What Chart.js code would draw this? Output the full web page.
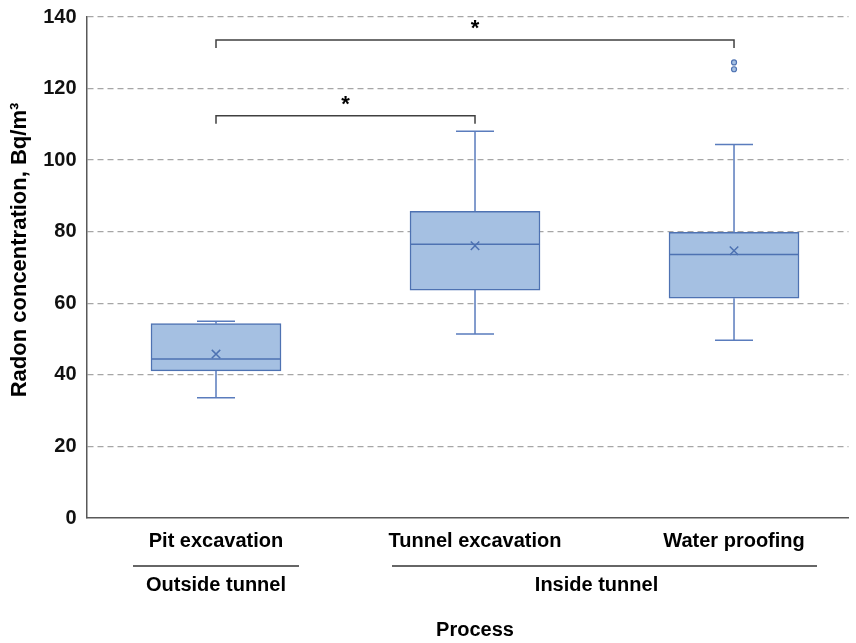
<!DOCTYPE html>
<html>
<head>
<meta charset="utf-8">
<script src="https://cdn.jsdelivr.net/npm/chart.js@4.4.1/dist/chart.umd.min.js"></script>
<style>
  html, body { margin: 0; padding: 0; background: #fff; }
  #wrap { width: 856px; height: 643px; }
</style>
</head>
<body>
<div id="wrap"><canvas id="chart" width="856" height="643"></canvas></div>
<script>
// Data
const categories = ['Pit excavation', 'Tunnel excavation', 'Water proofing'];
const groups = ['Outside tunnel', 'Inside tunnel'];
const groupFirst = [0, 1];
const groupLast = [0, 2];

const whiskerMin = [33.6, 51.4, 49.7];
const q1 = [41.1, 63.7, 61.4];
const median = [44.4, 76.5, 73.6];
const q3 = [54.3, 85.7, 79.8];
const whiskerMax = [55.0, 108.1, 104.4];
const means = [45.8, 76.1, 74.7];

const outlierCat = [3, 3];
const outlierVal = [127.3, 125.4];

const yTicks = [0, 20, 40, 60, 80, 100, 120, 140];

// significance brackets (category positions 1..3)
const sigFrom = [1, 1];
const sigTo = [2, 3];
const sigLevel = [112.4, 133.6];
const sigLabel = ['*', '*'];

const FONT = "'Liberation Sans', Arial, sans-serif";
const boxFill = '#a5c0e2';
const boxLine = '#4e72b2';
const whiskerColor = '#5a7cbd';

const boxExtras = {
    id: 'boxExtras',
    afterDatasetDraw(chart, args) {
        if (args.index !== 0) return;
        const { ctx, scales: { x, y } } = chart;
        const bars = chart.getDatasetMeta(0).data;
        ctx.save();
        ctx.lineWidth = 1.5;
        ctx.strokeStyle = whiskerColor;
        categories.forEach((c, i) => {
            const cx = x.getPixelForValue(i + 1);
            const cap = 19;
            ctx.beginPath();
            // upper whisker
            ctx.moveTo(cx, y.getPixelForValue(q3[i]));
            ctx.lineTo(cx, y.getPixelForValue(whiskerMax[i]));
            ctx.moveTo(cx - cap, y.getPixelForValue(whiskerMax[i]));
            ctx.lineTo(cx + cap, y.getPixelForValue(whiskerMax[i]));
            // lower whisker
            ctx.moveTo(cx, y.getPixelForValue(q1[i]));
            ctx.lineTo(cx, y.getPixelForValue(whiskerMin[i]));
            ctx.moveTo(cx - cap, y.getPixelForValue(whiskerMin[i]));
            ctx.lineTo(cx + cap, y.getPixelForValue(whiskerMin[i]));
            ctx.stroke();

            // median
            const half = bars[i].width / 2;
            const my = y.getPixelForValue(median[i]);
            ctx.strokeStyle = boxLine;
            ctx.beginPath();
            ctx.moveTo(cx - half, my);
            ctx.lineTo(cx + half, my);
            ctx.stroke();
            ctx.strokeStyle = whiskerColor;
        });
        ctx.restore();
    },
    afterDraw(chart) {
        const { ctx, scales: { x, y } } = chart;
        ctx.save();

        // significance brackets
        ctx.strokeStyle = '#404040';
        ctx.lineWidth = 1.5;
        ctx.fillStyle = '#000';
        ctx.textAlign = 'center';
        ctx.textBaseline = 'middle';
        sigFrom.forEach((f, i) => {
            const x1 = x.getPixelForValue(f);
            const x2 = x.getPixelForValue(sigTo[i]);
            const ly = y.getPixelForValue(sigLevel[i]);
            ctx.beginPath();
            ctx.moveTo(x1, ly + 8);
            ctx.lineTo(x1, ly);
            ctx.lineTo(x2, ly);
            ctx.lineTo(x2, ly + 8);
            ctx.stroke();
            ctx.font = 'bold 22px ' + FONT;
            ctx.fillText(sigLabel[i], (x1 + x2) / 2, ly - 11);
        });

        // category labels
        ctx.font = 'bold 20px ' + FONT;
        categories.forEach((c, i) => {
            ctx.fillText(c, x.getPixelForValue(i + 1), 541);
        });

        // group labels with lines
        groups.forEach((g, i) => {
            const a = x.getPixelForValue(groupFirst[i] + 1);
            const b = x.getPixelForValue(groupLast[i] + 1);
            const left = a - 83;
            const right = b + 83;
            ctx.strokeStyle = '#333';
            ctx.lineWidth = 1.5;
            ctx.beginPath();
            ctx.moveTo(left, 566);
            ctx.lineTo(right, 566);
            ctx.stroke();
            const tx = groupFirst[i] === groupLast[i] ? a : (left + right) / 2 - 8;
            ctx.fillText(g, tx, 585);
        });

        // x axis title
        ctx.fillText('Process', x.getPixelForValue(2), 630);

        // y axis title
        ctx.font = 'bold 22px ' + FONT;
        ctx.translate(20, 250);
        ctx.rotate(-Math.PI / 2);
        ctx.fillText('Radon concentration, Bq/m³', 0, 0);
        ctx.restore();
    }
};

new Chart(document.getElementById('chart'), {
    data: {
        datasets: [
            {
                type: 'bar',
                data: categories.map((c, i) => ({ x: i + 1, y: [q1[i], q3[i]] })),
                backgroundColor: boxFill,
                borderColor: boxLine,
                borderWidth: 1.5,
                borderSkipped: false,
                barThickness: 130,
                order: 3
            },
            {
                type: 'scatter',
                data: categories.map((c, i) => ({ x: i + 1, y: means[i] })),
                pointStyle: 'crossRot',
                pointRadius: 6,
                borderColor: boxLine,
                borderWidth: 1.5,
                order: 1
            },
            {
                type: 'scatter',
                data: outlierCat.map((c, i) => ({ x: c, y: outlierVal[i] })),
                pointStyle: 'circle',
                pointRadius: 2.5,
                backgroundColor: boxFill,
                borderColor: boxLine,
                borderWidth: 1.2,
                order: 2
            }
        ]
    },
    options: {
        responsive: false,
        animation: false,
        layout: { padding: { top: 17, right: 5, left: 0, bottom: 0 } },
        plugins: { legend: { display: false }, tooltip: { enabled: false } },
        scales: {
            x: {
                type: 'linear',
                offset: false,
                min: 0.5,
                max: 3.442,
                ticks: { display: false },
                grid: { display: false, offset: false },
                border: { color: '#595959', width: 1.5 },
                afterFit: s => { s.height = 125; }
            },
            y: {
                min: 0,
                max: 140,
                afterBuildTicks: s => { s.ticks = yTicks.map(v => ({ value: v })); },
                ticks: {
                    font: { family: FONT, size: 20, weight: 'bold' },
                    color: '#111',
                    padding: 10
                },
                grid: {
                    drawTicks: false,
                    color: c => (c.tick && c.tick.value === 0) ? 'rgba(0,0,0,0)' : '#a6a6a6',
                    lineWidth: 1.3
                },
                border: { color: '#595959', width: 1.5, dash: [6, 4] },
                afterFit: s => { s.width = 86.5; s.paddingTop = 0; s.paddingBottom = 0; }
            }
        }
    },
    plugins: [boxExtras]
});
</script>
</body>
</html>
